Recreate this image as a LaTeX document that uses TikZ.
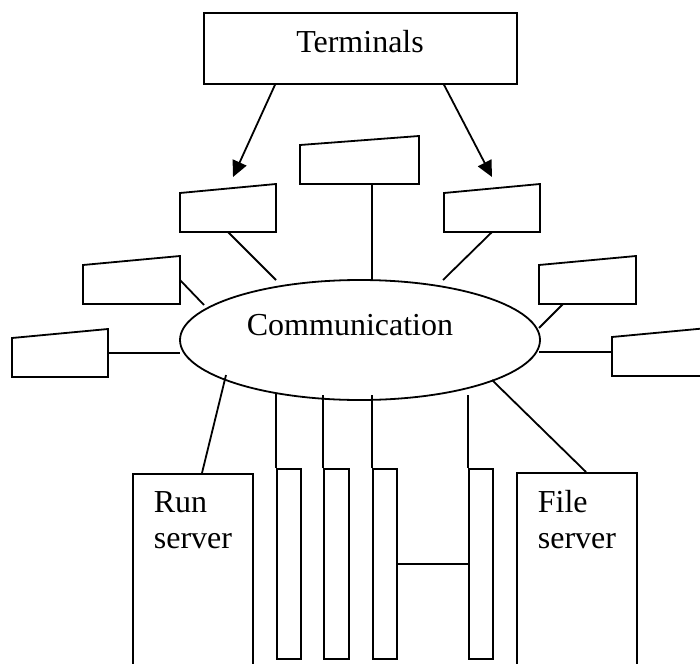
\documentclass[tikz,border=0pt]{standalone}
\usepackage{fontspec}
\setmainfont{Liberation Serif}
\usetikzlibrary{shapes.geometric,arrows.meta,calc}
\begin{document}
\begin{tikzpicture}[x=1pt,y=-1pt,line width=1.8pt,
  box/.style={draw,rectangle,inner sep=0pt},
  lbl/.style={font=\fontsize{32}{36}\selectfont,inner sep=0pt},
  arr/.style={-{Triangle[length=16pt,width=15pt]}},
  pics/termbox/.style={code={
    \draw (0,0) -- (#1,0) -- (#1,-48) -- (0,-39) -- cycle;
    \coordinate (-bl) at (0,0);
    \coordinate (-bc) at (#1/2,0);
    \coordinate (-r) at (#1,-24);
    \coordinate (-l) at (0,-24);
  }}]
\useasboundingbox (0,0) rectangle (700,663);
\clip (0,0) rectangle (700,663);

% Terminals
\node[box,minimum width=313pt,minimum height=71pt,anchor=north west] (term) at (203,12) {};
\node[lbl,anchor=base] (termtxt) at (360,53) {Terminals};

% Communication
\node[draw,ellipse,inner sep=0pt,minimum width=360pt,minimum height=120pt] (comm) at (360,340) {};
\node[lbl,anchor=base] (commtxt) at (350,335) {Communication};

% terminal boxes
\pic (t0) at (300,184) {termbox=119};
\pic (t1) at (180,232) {termbox=96};
\pic (t2) at (83,304) {termbox=97};
\pic (t3) at (12,377) {termbox=96};
\pic (t4) at (444,232) {termbox=96};
\pic (t5) at (539,304) {termbox=97};
\pic (t6) at (612,376) {termbox=96};

% arrows
\draw[arr] ($(term.south west)+(72,0)$) -- (233,177);
\draw[arr] ($(term.south west)+(241,0)$) -- (492,177);

% terminal connectors
\draw ($(t0-bl)+(72,0)$) -- (372,280);
\draw (t1-bc) -- (276,280);
\draw (t2-r) -- (204,305);
\draw (t3-r) -- (180,353);
\draw (t4-bc) -- (443,280);
\draw ($(t5-bl)+(24,0)$) -- (539,328);
\draw (t6-l) -- (539,352);

% servers
\node[box,minimum width=120pt,minimum height=260pt,anchor=north west] (run) at (132,473) {};
\node[lbl,anchor=base west] (runa) at (153,512) {Run};
\node[lbl,anchor=base west] (runb) at (153,548) {server};
\node[box,minimum width=120pt,minimum height=260pt,anchor=north west] (file) at (516,472) {};
\node[lbl,anchor=base west] (filea) at (537,512) {File};
\node[lbl,anchor=base west] (fileb) at (537,548) {server};
\draw ($(run.north west)+(70,0)$) -- (226,375);
\draw ($(file.north west)+(70,0)$) -- (492,380);

% thin boxes
\node[box,minimum width=24pt,minimum height=190pt,anchor=north west] (b1) at (276,468) {};
\node[box,minimum width=25pt,minimum height=190pt,anchor=north west] (b2) at (323,468) {};
\node[box,minimum width=24pt,minimum height=190pt,anchor=north west] (b3) at (372,468) {};
\node[box,minimum width=24pt,minimum height=190pt,anchor=north west] (b4) at (468,468) {};
\draw (b1.north west) -- ++(0,-75);
\draw (b2.north west) -- ++(0,-73);
\draw (b3.north west) -- ++(0,-73);
\draw (b4.north west) -- ++(0,-73);
\draw (b3.east) -- (b4.west);
\end{tikzpicture}
\end{document}
